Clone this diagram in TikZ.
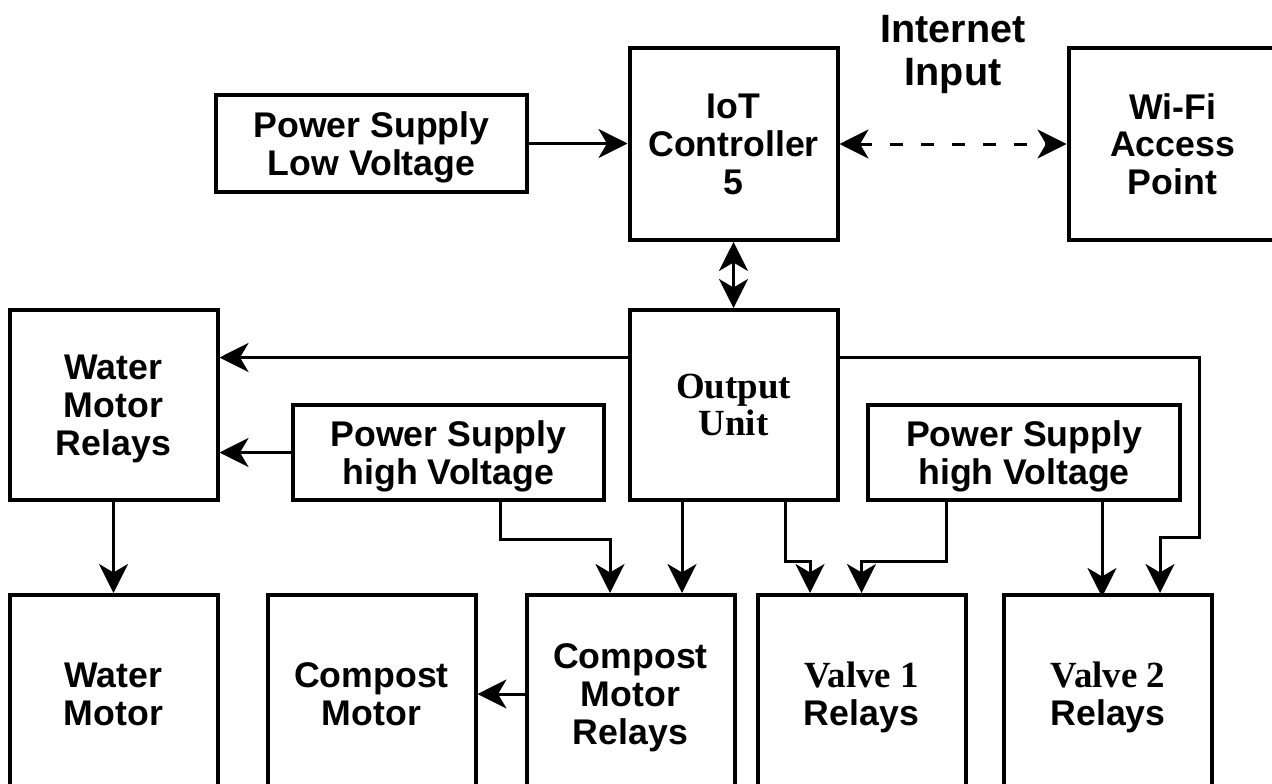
\documentclass[tikz,border=0pt]{standalone}
\usepackage{fontspec}
\setmainfont{Liberation Sans}
\newfontfamily\serifbox{Liberation Serif}
\usetikzlibrary{arrows.meta,calc}
\begin{document}
\begin{tikzpicture}[>={Stealth[length=.58cm,width=.58cm,inset=.17cm]},every node/.style={font=\fontsize{20.3}{21.5}\selectfont\bfseries},b/.style={draw,line width=.08cm,align=center,inner sep=0pt,text depth=-.08cm,minimum width=4.16cm},wire/.style={line width=.06cm},tm/.style={font=\serifbox\fontsize{21}{21}\selectfont\bfseries}]
\useasboundingbox (0,0) rectangle (25.44,15.66);
\fill[white] (0,0) rectangle (25.44,15.66);
\clip (0,0) rectangle (25.44,15.66);
\node[b,minimum width=6.22cm,minimum height=1.94cm] (pslv) at (7.43,12.79) {Power Supply\\Low Voltage};
\node[b,minimum height=3.84cm] (iot) at (14.67,12.78) {IoT\\Controller\\5};
\node[b,minimum height=3.84cm] (wifi) at (23.45,12.78) {Wi-Fi\\Access\\Point};
\node[align=center,font=\fontsize{22.5}{25}\selectfont\bfseries] (inet) at (19.06,14.57) {Internet\\Input};
\node[b,tm,minimum height=3.8cm] (ou) at (14.67,7.56) {Output\\Unit};
\node[b,minimum height=3.8cm] (wmr) at (2.27,7.56) {Water\\Motor\\Relays};
\node[b,minimum width=6.22cm,minimum height=1.9cm] (pshvl) at (8.97,6.61) {Power Supply\\high Voltage};
\node[b,minimum width=6.24cm,minimum height=1.9cm] (pshvr) at (20.48,6.61) {Power Supply\\high Voltage};
\node[b,minimum height=3.96cm] (wm) at (2.27,1.78) {Water\\Motor};
\node[b,minimum height=3.96cm] (cm) at (7.43,1.78) {Compost\\Motor};
\node[b,minimum height=3.96cm] (cmr) at (12.61,1.78) {Compost\\Motor\\Relays};
\node[b,minimum height=3.96cm] (v1) at (17.23,1.78) {{\serifbox\fontsize{21}{21}\selectfont Valve 1}\\Relays};
\node[b,minimum height=3.96cm] (v2) at (22.16,1.78) {{\serifbox\fontsize{21}{21}\selectfont Valve 2}\\Relays};
% top row
\draw[wire,->] (pslv.east)--(pslv.east -| iot.west);
\draw[wire,<->,dash pattern=on .26cm off .36cm] (iot.east)--(wifi.west);
\draw[wire,<->] (iot.south)--(ou.north);
% to the water motor
\draw[wire,->] ([yshift=.95cm]ou.west)--([yshift=.95cm]ou.west -| wmr.east);
\draw[wire,->] (pshvl.west)--(pshvl.west -| wmr.east);
\draw[wire,->] (wmr.south)--(wm.north);
% to the compost motor
\draw[wire,->] ($(pshvl.south)+(1.03,0)$)--++(0,-.74)-|($(cmr.north)+(-.41,0)$);
\draw[wire,->] ($(ou.south)+(-1.03,0)$)--($(cmr.north)+(1.03,0)$);
\draw[wire,->] (cmr.west)--(cmr.west -| cm.east);
% to the valves
\draw[wire,->] ($(ou.south)+(1.03,0)$)--++(0,-1.18)-|($(v1.north)+(-1.03,0)$);
\draw[wire,->] ($(pshvr.south)+(-1.56,0)$)--++(0,-1.18)-|(v1.north);
\draw[wire,->] ($(pshvr.south)+(1.56,0)$)--++(0,-1.9);
\draw[wire,->] ([yshift=.95cm]ou.east)-|(23.98,4.92)-|($(v2.north)+(1.04,0)$);
\end{tikzpicture}
\end{document}
